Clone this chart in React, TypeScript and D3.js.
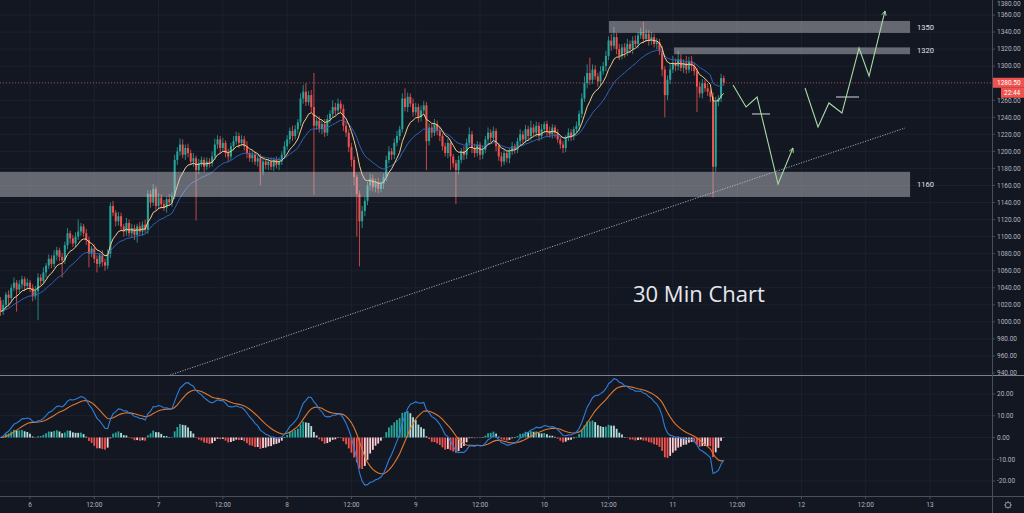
import React from 'react'
import * as d3 from 'd3'

// 30-minute bars; the first visible bar opens on the 5th at 18:30
const firstBarDay = 5 + 18.5 / 24
const firstOpen = 1025

const closes = [
	1012, 1020, 1032, 1028, 1040, 1046, 1038, 1044, 1050, 1042,
	1046, 1040, 1030, 1036, 1052, 1048, 1058, 1066, 1074, 1068,
	1078, 1084, 1076, 1072, 1090, 1104, 1098, 1092, 1100, 1106,
	1112, 1104, 1096, 1080, 1086, 1074, 1068, 1078, 1070, 1066,
	1080, 1136, 1128, 1118, 1124, 1112, 1106, 1116, 1104, 1110,
	1102, 1112, 1106, 1114, 1108, 1150, 1140, 1156, 1136, 1146,
	1138, 1134, 1144, 1140, 1148, 1190, 1200, 1208, 1196, 1204,
	1198, 1188, 1192, 1178, 1186, 1190, 1182, 1188, 1186, 1194,
	1208, 1214, 1204, 1210, 1198, 1194, 1206, 1212, 1218, 1210,
	1214, 1206, 1198, 1192, 1196, 1188, 1192, 1176, 1188, 1184,
	1188, 1182, 1190, 1184, 1188, 1196, 1206, 1214, 1224, 1218,
	1226, 1234, 1262, 1270, 1258, 1266, 1252, 1230, 1236, 1226,
	1232, 1222, 1238, 1244, 1252, 1248, 1256, 1250, 1230, 1222,
	1205, 1190, 1170, 1150, 1118, 1130, 1142, 1160, 1168, 1158,
	1164, 1156, 1162, 1170, 1190, 1200, 1196, 1210, 1218, 1226,
	1262, 1252, 1264, 1256, 1246, 1252, 1240, 1248, 1254, 1212,
	1228, 1222, 1232, 1224, 1218, 1206, 1198, 1210, 1194, 1186,
	1178, 1190, 1200, 1196, 1210, 1220, 1204, 1198, 1208, 1196,
	1202, 1214, 1222, 1216, 1224, 1206, 1194, 1188, 1198, 1192,
	1200, 1206, 1202, 1212, 1220, 1214, 1226, 1218, 1228, 1222,
	1230, 1218, 1226, 1232, 1224, 1220, 1228, 1222, 1214, 1208,
	1204, 1216, 1222, 1218, 1226, 1230, 1244, 1262, 1280, 1292,
	1284, 1296, 1288, 1282, 1294, 1300, 1312, 1330, 1324, 1334,
	1320, 1312, 1322, 1316, 1326, 1320, 1330, 1326, 1336, 1340,
	1332, 1338, 1330, 1334, 1326, 1328, 1318, 1296, 1266, 1284,
	1296, 1304, 1300, 1308, 1298, 1304, 1296, 1306, 1300, 1294,
	1276, 1268, 1280, 1274, 1270, 1264, 1182, 1258, 1262, 1286, 1280.5,
]

// wick lengths above / below the candle body
const wickHigh = [
	4, 6, 3, 5, 4, 6, 3, 5, 4, 3,
	5, 3, 4, 6, 5, 4, 6, 3, 5, 4,
	6, 4, 3, 5, 4, 6, 3, 4, 5, 14,
	4, 3, 5, 4, 3, 5, 4, 3, 6, 4,
	5, 4, 6, 3, 5, 4, 3, 6, 4, 5,
	4, 3, 5, 4, 6, 5, 4, 6, 3, 5,
	4, 5, 3, 6, 4, 6, 5, 7, 6, 4,
	5, 4, 6, 3, 5, 4, 3, 5, 4, 6,
	7, 5, 4, 6, 3, 5, 4, 6, 5, 4,
	5, 4, 6, 3, 5, 4, 3, 5, 4, 3,
	4, 5, 3, 4, 5, 4, 6, 5, 4, 6,
	5, 4, 6, 8, 10, 5, 6, 40, 4, 5,
	4, 6, 5, 4, 8, 5, 6, 4, 5, 4,
	4, 5, 4, 3, 4, 6, 5, 4, 6, 5,
	4, 5, 3, 4, 5, 6, 4, 5, 6, 4,
	6, 12, 5, 4, 6, 5, 4, 6, 5, 4,
	5, 4, 6, 4, 5, 3, 4, 5, 4, 3,
	4, 5, 4, 6, 5, 8, 4, 5, 4, 3,
	5, 4, 6, 4, 5, 3, 4, 5, 4, 3,
	4, 5, 3, 4, 6, 4, 5, 4, 8, 4,
	5, 4, 6, 3, 4, 5, 4, 3, 4, 3,
	4, 3, 5, 4, 3, 5, 4, 6, 8, 10,
	18, 6, 5, 4, 6, 5, 6, 5, 8, 12,
	5, 6, 4, 5, 6, 4, 5, 6, 4, 5,
	12, 5, 4, 6, 4, 5, 4, 6, 4, 5,
	6, 8, 5, 10, 6, 4, 8, 5, 6, 4,
	4, 6, 5, 4, 6, 3, 5, 6, 4, 5, 3,
]
const wickLow = [
	5, 4, 6, 10, 5, 4, 26, 4, 5, 6,
	4, 5, 6, 4, 34, 5, 4, 6, 4, 5,
	4, 6, 5, 20, 4, 5, 6, 4, 5, 4,
	5, 4, 6, 16, 4, 5, 10, 4, 5, 6,
	4, 5, 4, 6, 5, 4, 6, 5, 4, 5,
	6, 9, 4, 5, 4, 5, 6, 4, 5, 4,
	5, 4, 6, 4, 5, 4, 6, 5, 4, 6,
	5, 4, 6, 59, 5, 4, 6, 4, 5, 4,
	4, 5, 6, 4, 5, 6, 4, 5, 4, 6,
	4, 5, 6, 4, 5, 4, 6, 16, 4, 5,
	6, 4, 5, 4, 6, 4, 5, 4, 5, 6,
	4, 5, 4, 6, 5, 4, 6, 81, 5, 4,
	6, 5, 4, 5, 4, 6, 4, 5, 6, 5,
	6, 8, 10, 50, 53, 8, 6, 5, 6, 5,
	6, 5, 4, 6, 5, 4, 6, 5, 4, 5,
	4, 5, 6, 4, 5, 4, 6, 5, 4, 34,
	5, 6, 4, 5, 6, 5, 4, 6, 16, 5,
	40, 5, 4, 6, 5, 4, 6, 5, 4, 6,
	5, 4, 6, 5, 4, 6, 5, 6, 4, 5,
	6, 4, 5, 4, 6, 5, 4, 6, 5, 4,
	5, 6, 4, 5, 6, 4, 5, 6, 4, 5,
	6, 5, 4, 6, 5, 4, 6, 5, 4, 6,
	6, 5, 4, 6, 5, 4, 6, 5, 6, 4,
	6, 5, 4, 6, 4, 5, 6, 4, 5, 4,
	5, 4, 6, 5, 4, 6, 5, 8, 26, 6,
	5, 4, 6, 5, 4, 6, 5, 4, 6, 5,
	30, 5, 6, 4, 5, 6, 36, 6, 5, 4, 3,
]

const priceTicks = [940, 960, 980, 1000, 1020, 1040, 1060, 1080, 1100, 1120, 1140, 1160, 1180, 1200, 1220, 1240, 1260, 1280, 1300, 1320, 1340, 1360, 1380]
const macdTicks = [20, 10, 0, -10, -20]
const timeTickDays = [6, 6.5, 7, 7.5, 8, 8.5, 9, 9.5, 10, 10.5, 11, 11.5, 12, 12.5, 13]
const timeTickLabels = ['6', '12:00', '7', '12:00', '8', '12:00', '9', '12:00', '10', '12:00', '11', '12:00', '12', '12:00', '13']

// horizontal zones drawn on the chart
const zoneLabels = ['1350', '1320', '1160']
const zoneLow = [1339, 1314, 1146.5]
const zoneHigh = [1353, 1322, 1176]
const zoneStart = [10.503, 11.009, 5.6]
const zoneEnd = [12.845, 12.845, 12.845]

// drawn trendline and projected paths: [day, price]
const trendline = [[7.089, 937.6], [12.806, 1227.4]]
const projectionA = [[11.468, 1277.9], [11.569, 1252.1], [11.655, 1263.8], [11.818, 1161.7], [11.934, 1204.0]]
const projectionB = [[12.028, 1274.4], [12.129, 1228.6], [12.214, 1256.8], [12.315, 1245.0], [12.448, 1321.3], [12.526, 1288.4], [12.65, 1364.7]]
const targetMarks = [[[11.616, 1243.9], [11.756, 1243.9]], [[12.269, 1263.8], [12.448, 1263.8]]]

const lastPrice = 1280.5
const countdown = '22:44'
const title = '30 Min Chart'
const titleAt = [10.69, 1023]

const W = 1024
const H = 513
const AXIS_X = 992
const MAIN_BOTTOM = 375
const MACD_BOTTOM = 496

const BG = '#131722'
const GRID = '#1c2130'
const TEXT = '#b2b5be'
const UP = '#26a69a'
const DOWN = '#ef5350'

function ema(values: number[], period: number) {
	const k = 2 / (period + 1)
	const out: number[] = []
	values.forEach((v, i) => out.push(i === 0 ? v : v * k + out[i - 1] * (1 - k)))
	return out
}

export default function App() {
	const x = d3.scaleLinear().domain([6, 13]).range([30, 930])
	const yP = d3.scaleLinear().domain([940, 1360]).range([373, 15])
	const yM = d3.scaleLinear().domain([-20, 20]).range([481, 394])

	const bars = closes.map((c, i) => {
		const o = i === 0 ? firstOpen : closes[i - 1]
		return {
			t: firstBarDay + i / 48,
			o,
			c,
			h: Math.max(o, c) + wickHigh[i],
			l: Math.min(o, c) - wickLow[i],
		}
	})

	const emaFast = ema(closes, 9)
	const emaSlow = ema(closes, 21)
	const e12 = ema(closes, 12)
	const e26 = ema(closes, 26)
	const macd = e12.map((v, i) => v - e26[i])
	const signal = ema(macd, 9)
	const hist = macd.map((v, i) => v - signal[i])

	const priceLine = d3.line<number>().x((_, i) => x(bars[i].t)).y(d => yP(d))
	const macdLine = d3.line<number>().x((_, i) => x(bars[i].t)).y(d => yM(d))
	const pathLine = d3.line<number[]>().x(d => x(d[0])).y(d => yP(d[1]))

	const gridXs = timeTickDays.concat([5.5])
	const font = 'Roboto, "Noto Sans", sans-serif'

	return (
		<svg width={W} height={H} style={{ position: 'fixed', left: 0, top: 0, background: BG }}>
			<defs>
				<clipPath id="main-clip"><rect x={0} y={0} width={AXIS_X} height={MAIN_BOTTOM} /></clipPath>
				<clipPath id="macd-clip"><rect x={0} y={MAIN_BOTTOM + 1} width={AXIS_X} height={MACD_BOTTOM - MAIN_BOTTOM - 1} /></clipPath>
				<marker id="arrow" viewBox="0 0 10 10" refX="9" refY="5" markerWidth="5" markerHeight="5" orient="auto">
					<path d="M1,1 L9,5 L1,9" fill="none" stroke="#a9d8a4" strokeWidth={1.6} />
				</marker>
			</defs>
			<rect width={W} height={H} fill={BG} />

			{/* grid */}
			<g stroke={GRID} strokeWidth={1}>
				{gridXs.map(d => (
					<line key={'gx' + d} x1={x(d)} x2={x(d)} y1={0} y2={MACD_BOTTOM} />
				))}
				{priceTicks.map(p => (
					<line key={'gy' + p} x1={0} x2={AXIS_X} y1={yP(p)} y2={yP(p)} />
				))}
				{macdTicks.map(m => (
					<line key={'gm' + m} x1={0} x2={AXIS_X} y1={yM(m)} y2={yM(m)} />
				))}
			</g>

			{/* main pane */}
			<g clipPath="url(#main-clip)">
				{bars.map((b, i) => {
					const col = b.c >= b.o ? UP : DOWN
					const top = yP(Math.max(b.o, b.c))
					const h = Math.max(0.8, Math.abs(yP(b.o) - yP(b.c)))
					return (
						<g key={i}>
							<line x1={x(b.t)} x2={x(b.t)} y1={yP(b.h)} y2={yP(b.l)} stroke={col} strokeWidth={0.8} />
							<rect x={x(b.t) - 1} width={2} y={top} height={h} fill={col} />
						</g>
					)
				})}
				<path d={priceLine(emaSlow) || ''} fill="none" stroke="#2d63b8" strokeWidth={1} />
				<path d={priceLine(emaFast) || ''} fill="none" stroke="#f3cf8a" strokeWidth={1} />

				<line x1={0} x2={AXIS_X} y1={yP(lastPrice)} y2={yP(lastPrice)} stroke={DOWN} strokeWidth={0.8} strokeDasharray="1 2" opacity={0.8} />

				<path d={pathLine(trendline) || ''} fill="none" stroke="#c3c6ce" strokeWidth={0.8} strokeDasharray="1.2 1.4" />

				{zoneLabels.map((lab, i) => (
					<g key={lab}>
						<rect x={x(zoneStart[i])} width={x(zoneEnd[i]) - x(zoneStart[i])} y={yP(zoneHigh[i])} height={yP(zoneLow[i]) - yP(zoneHigh[i])} fill="#c9ccd3" opacity={0.45} />
						<text x={x(zoneEnd[i]) + 7} y={yP((zoneLow[i] + zoneHigh[i]) / 2)} dy="0.35em" fill="#e0e3eb" fontSize={7.5} fontFamily={font}>{lab}</text>
					</g>
				))}

				{targetMarks.map((seg, i) => (
					<path key={'t' + i} d={pathLine(seg) || ''} stroke="#a0a3ab" strokeWidth={1.4} fill="none" />
				))}
				{[projectionA, projectionB].map((p, i) => (
					<path key={'p' + i} d={pathLine(p) || ''} fill="none" stroke="#a9d8a4" strokeWidth={1.1} markerEnd="url(#arrow)" />
				))}

				<text x={x(titleAt[0])} y={yP(titleAt[1])} fill="#e6e8ee" fontSize={22} fontFamily='"Open Sans", sans-serif'>{title}</text>
			</g>

			{/* MACD pane */}
			<g clipPath="url(#macd-clip)">
				{hist.map((v, i) => {
					const prev = i === 0 ? 0 : hist[i - 1]
					const col = v >= 0 ? (v >= prev ? '#26a69a' : '#b2dfdb') : (v <= prev ? '#ef5350' : '#ffcdd2')
					const y0 = yM(0)
					const y1 = yM(v)
					return <rect key={i} x={x(bars[i].t) - 0.9} width={1.8} y={Math.min(y0, y1)} height={Math.max(0.5, Math.abs(y1 - y0))} fill={col} />
				})}
				<path d={macdLine(signal) || ''} fill="none" stroke="#e0782e" strokeWidth={1.1} />
				<path d={macdLine(macd) || ''} fill="none" stroke="#2f7ed8" strokeWidth={1.1} />
			</g>

			{/* separators */}
			<line x1={0} x2={W} y1={MAIN_BOTTOM + 0.5} y2={MAIN_BOTTOM + 0.5} stroke="#7d808a" strokeWidth={1} />
			<line x1={0} x2={W} y1={MACD_BOTTOM + 0.5} y2={MACD_BOTTOM + 0.5} stroke="#4a4e5a" strokeWidth={1} />
			<line x1={AXIS_X + 0.5} x2={AXIS_X + 0.5} y1={0} y2={H} stroke="#4a4e5a" strokeWidth={1} />

			{/* price axis */}
			<g fontFamily={font} fontSize={6.5} fill={TEXT}>
				{priceTicks.map(p => (
					<g key={'pt' + p}>
						<line x1={AXIS_X} x2={AXIS_X + 3} y1={yP(p)} y2={yP(p)} stroke="#4a4e5a" />
						<text x={AXIS_X + 5} y={Math.max(yP(p), 4)} dy="0.35em">{p.toFixed(2)}</text>
					</g>
				))}
				{macdTicks.map(m => (
					<g key={'mt' + m}>
						<line x1={AXIS_X} x2={AXIS_X + 3} y1={yM(m)} y2={yM(m)} stroke="#4a4e5a" />
						<text x={AXIS_X + 5} y={yM(m)} dy="0.35em">{m.toFixed(2)}</text>
					</g>
				))}
				<rect x={AXIS_X + 1} y={yP(lastPrice) - 5} width={W - AXIS_X} height={10} fill={DOWN} />
				<text x={AXIS_X + 5} y={yP(lastPrice)} dy="0.35em" fill="#fff">{lastPrice.toFixed(2)}</text>
				<rect x={AXIS_X + 9} y={yP(lastPrice) + 5} width={W - AXIS_X - 9} height={10} fill={DOWN} />
				<text x={AXIS_X + 12} y={yP(lastPrice) + 10} dy="0.35em" fill="#fff">{countdown}</text>
			</g>

			{/* time axis */}
			<g fontFamily={font} fontSize={6.5} fill={TEXT}>
				{timeTickDays.map((d, i) => (
					<g key={'tt' + d}>
						<line x1={x(d)} x2={x(d)} y1={MACD_BOTTOM + 1} y2={MACD_BOTTOM + 3} stroke="#4a4e5a" />
						<text x={x(d)} y={505} dy="0.35em" textAnchor="middle">{timeTickLabels[i]}</text>
					</g>
				))}
			</g>

			{/* settings gear */}
			<g transform={`translate(${(AXIS_X + W) / 2}, 505)`} stroke="#9598a1" fill="none" strokeWidth={0.9}>
				<circle r={2.6} />
				{d3.range(8).map(k => {
					const a = (k * Math.PI) / 4
					return <line key={k} x1={Math.cos(a) * 2.6} y1={Math.sin(a) * 2.6} x2={Math.cos(a) * 4} y2={Math.sin(a) * 4} />
				})}
			</g>
		</svg>
	)
}
